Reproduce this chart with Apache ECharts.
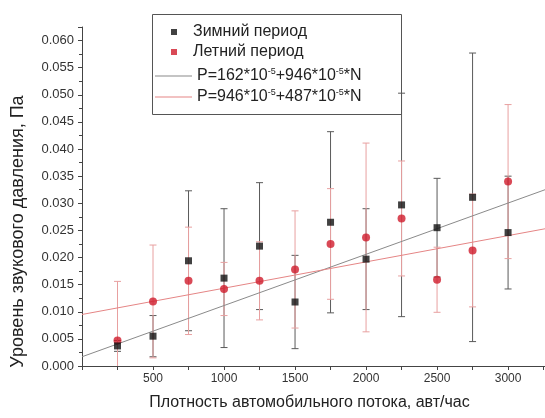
<!DOCTYPE html>
<html>
<head>
<meta charset="utf-8">
<script src="https://cdn.jsdelivr.net/npm/echarts@6/dist/echarts.min.js"></script>
<style>
  html, body { margin: 0; padding: 0; background: #fff; }
  #chart { width: 545px; height: 418px; }
</style>
</head>
<body>
<div id="chart"></div>
<script>
// плотность потока, авт/час
var flow = [250, 500, 750, 1000, 1250, 1500, 1750, 2000, 2250, 2500, 2750, 3000];

// зимний период
var winterP = [0.0037, 0.0055, 0.0194, 0.0162, 0.0221, 0.0118, 0.0265, 0.0197, 0.0297, 0.0255, 0.0311, 0.0246];
var winterErr = [0.0010, 0.0038, 0.0129, 0.0128, 0.0117, 0.0086, 0.0167, 0.0093, 0.0206, 0.0091, 0.0266, 0.0104];

// летний период
var summerP = [0.0047, 0.0119, 0.0157, 0.0142, 0.0157, 0.0178, 0.0225, 0.0237, 0.0272, 0.0159, 0.0213, 0.0340];
var summerErr = [0.0109, 0.0104, 0.0099, 0.0049, 0.0072, 0.0108, 0.0102, 0.0174, 0.0106, 0.0060, 0.0104, 0.0142];

// концы линий регрессии
var fitX = [0, 3260];
var winterFit = [0.0017, 0.0325];
var summerFit = [0.0095, 0.0253];

var names = ['Зимний период', 'Летний период',
    'P=162*10-5+946*10-5*N', 'P=946*10-5+487*10-5*N'];

var FONT = '"Liberation Sans", Arial, sans-serif';

function pairs(xs, ys) {
    return xs.map(function (x, i) { return [x, ys[i]]; });
}
function errData(xs, ys, es) {
    return xs.map(function (x, i) { return [x, ys[i] - es[i], ys[i] + es[i]]; });
}

function errBars(color) {
    return function (params, api) {
        var x = api.value(0);
        var lo = api.value(1);
        var hi = api.value(2);
        var top = api.coord([x, hi]);
        var bot = api.coord([x, Math.max(lo, 0)]);
        var w = 3.5;
        var st = {stroke: color, lineWidth: 1};
        var kids = [
            {type: 'line', shape: {x1: top[0], y1: top[1], x2: bot[0], y2: bot[1]}, style: st},
            {type: 'line', shape: {x1: top[0] - w, y1: top[1], x2: top[0] + w, y2: top[1]}, style: st}
        ];
        if (lo > 0) {
            kids.push({type: 'line', shape: {x1: bot[0] - w, y1: bot[1], x2: bot[0] + w, y2: bot[1]}, style: st});
        }
        return {type: 'group', children: kids};
    };
}

var chart = echarts.init(document.getElementById('chart'));

var option = {
    animation: false,
    textStyle: {fontFamily: FONT},
    grid: {left: 82, right: 0, top: 27, bottom: 52},
    graphic: [{
        type: 'rect',
        left: 150, top: 12,
        shape: {width: 249, height: 100},
        style: {fill: 'none', stroke: '#555', lineWidth: 1},
        z: 10
    }],
    legend: [{
        data: [
            {name: names[0], icon: 'rect'},
            {name: names[1], icon: 'rect'}
        ],
        orient: 'vertical',
        left: 166, top: 19,
        itemWidth: 6, itemHeight: 6,
        itemGap: 4,
        textStyle: {fontSize: 16, color: '#222', fontFamily: FONT, padding: [0, 0, 0, 11]}
    }, {
        data: [
            {name: names[2], icon: 'rect'},
            {name: names[3], icon: 'rect'}
        ],
        orient: 'vertical',
        left: 150, top: 62,
        itemWidth: 37, itemHeight: 1,
        itemGap: 4,
        textStyle: {
            fontSize: 16, color: '#222', fontFamily: FONT,
            rich: {
                sup: {fontSize: 9, color: '#222', fontFamily: FONT, padding: [0, 0, 9, 0]}
            }
        },
        formatter: function (n) {
            return n.replace(/10-5/g, '10{sup|-5}');
        }
    }],
    xAxis: {
        type: 'value',
        min: 0, max: 3260, interval: 500,
        name: 'Плотность автомобильного потока, авт/час',
        nameLocation: 'middle',
        nameGap: 29,
        nameTextStyle: {fontSize: 16, color: '#222', fontFamily: FONT, padding: [0, 8, 0, 0]},
        axisLine: {lineStyle: {color: '#444'}},
        axisTick: {length: 4, lineStyle: {color: '#444'}},
        minorTick: {show: true, splitNumber: 2, length: 4, lineStyle: {color: '#444'}},
        splitLine: {show: false},
        axisLabel: {
            fontSize: 12, color: '#333', margin: 7, showMaxLabel: false,
            formatter: function (v) { return v === 0 ? '' : String(v); }
        }
    },
    yAxis: {
        type: 'value',
        min: 0, max: 0.0625, interval: 0.005,
        name: 'Уровень звукового давления, Па',
        nameLocation: 'middle',
        nameGap: 55,
        nameTextStyle: {fontSize: 18, color: '#222', fontFamily: FONT, padding: [0, 70, 0, 0]},
        axisLine: {show: true, lineStyle: {color: '#444'}},
        axisTick: {show: true, length: 4, lineStyle: {color: '#444'}},
        minorTick: {show: true, splitNumber: 2, length: 3, lineStyle: {color: '#444'}},
        splitLine: {show: false},
        axisLabel: {
            fontSize: 13, color: '#333', margin: 8, showMaxLabel: false,
            formatter: function (v) { return v.toFixed(3); }
        }
    },
    series: [
        {
            name: 'errWinter', type: 'custom',
            renderItem: errBars('#5a5a5a'),
            data: errData(flow, winterP, winterErr),
            encode: {x: 0, y: [1, 2]}, z: 2, silent: true
        },
        {
            name: 'errSummer', type: 'custom',
            renderItem: errBars('#e8a0a0'),
            data: errData(flow, summerP, summerErr),
            encode: {x: 0, y: [1, 2]}, z: 2, silent: true
        },
        {
            name: names[2], type: 'line',
            data: pairs(fitX, winterFit),
            symbol: 'none', lineStyle: {color: '#8a8a8a', width: 1},
            itemStyle: {color: '#8a8a8a'}, z: 3
        },
        {
            name: names[3], type: 'line',
            data: pairs(fitX, summerFit),
            symbol: 'none', lineStyle: {color: '#e58585', width: 1},
            itemStyle: {color: '#e58585'}, z: 3
        },
        {
            name: names[0], type: 'scatter',
            data: pairs(flow, winterP),
            symbol: 'rect', symbolSize: 7,
            itemStyle: {color: '#111'}, z: 5
        },
        {
            name: names[1], type: 'scatter',
            data: pairs(flow, summerP),
            symbol: 'circle', symbolSize: 8,
            itemStyle: {color: '#d01c2c'}, z: 4
        }
    ]
};

chart.setOption(option);
</script>
</body>
</html>
